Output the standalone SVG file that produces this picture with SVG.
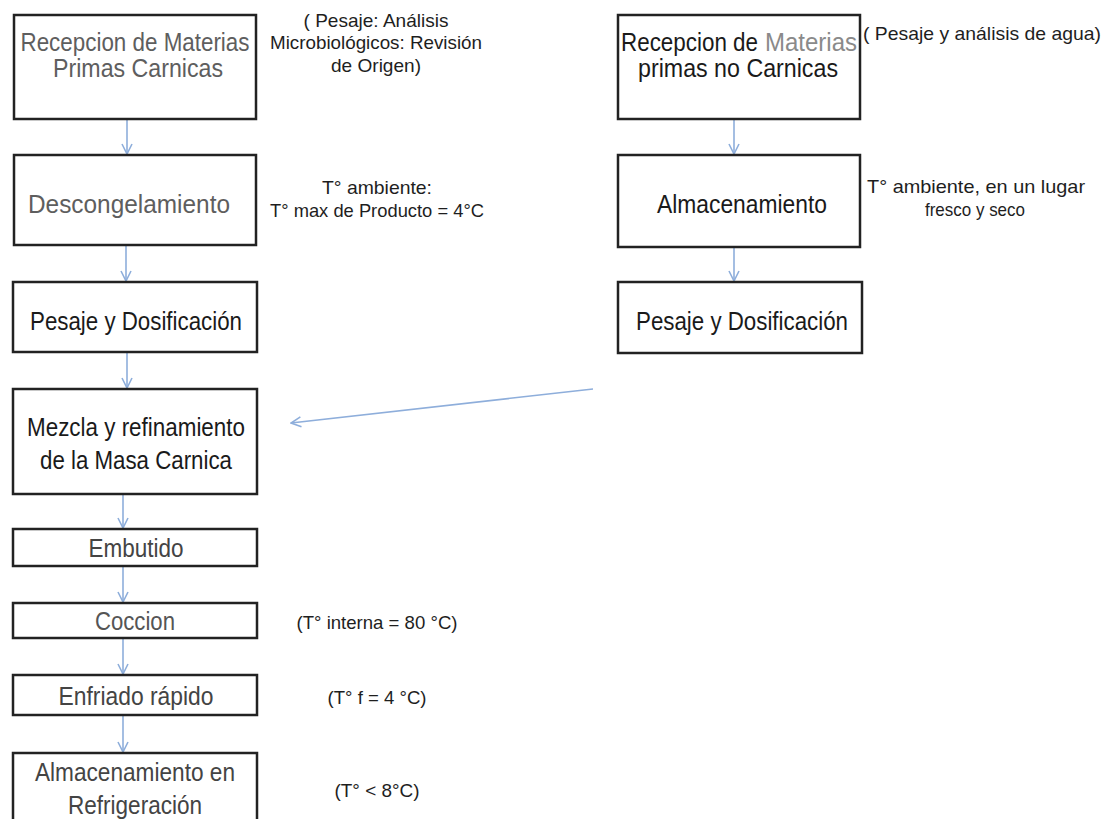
<svg xmlns="http://www.w3.org/2000/svg" width="1105" height="819" viewBox="0 0 1105 819">
<style>
.box{fill:#fff;stroke:#222;stroke-width:2.5}
.t{font-family:"Liberation Sans Narrow","Liberation Sans",Arial,sans-serif;text-anchor:middle;font-size:25px;fill:#1a1a1a}
.s{text-anchor:start}
.g{fill:#5e5e5e}
.g2{fill:#444}
.g3{fill:#555}
.g4{fill:#8a8a8a}
.a{font-family:"Liberation Sans Narrow","Liberation Sans",Arial,sans-serif;text-anchor:middle;font-size:18.5px;fill:#1e1e1e}
.c{stroke:#8eaedb;stroke-width:1.6;fill:none}
</style>
<defs>
<marker id="ah" viewBox="0 0 12 12" refX="11" refY="6" markerWidth="12" markerHeight="12" markerUnits="userSpaceOnUse" orient="auto">
<path d="M1,1 L11,6 L1,11" fill="none" stroke="#8eaedb" stroke-width="1.6"/>
</marker>
</defs>
<rect width="1105" height="819" fill="#fff"/>
<g id="connectors">
<line class="c" x1="127" y1="120" x2="127" y2="154" marker-end="url(#ah)"/>
<line class="c" x1="126" y1="246" x2="126" y2="281" marker-end="url(#ah)"/>
<line class="c" x1="127" y1="353" x2="127" y2="388" marker-end="url(#ah)"/>
<line class="c" x1="123" y1="495" x2="123" y2="528" marker-end="url(#ah)"/>
<line class="c" x1="123" y1="567" x2="123" y2="602" marker-end="url(#ah)"/>
<line class="c" x1="123" y1="639" x2="123" y2="674" marker-end="url(#ah)"/>
<line class="c" x1="123" y1="716" x2="123" y2="752" marker-end="url(#ah)"/>
<line class="c" x1="734" y1="120" x2="734" y2="154" marker-end="url(#ah)"/>
<line class="c" x1="734" y1="248" x2="734" y2="281" marker-end="url(#ah)"/>
<line class="c" x1="593" y1="389" x2="291" y2="423" marker-end="url(#ah)"/>
</g>
<g id="n1">
<rect class="box" x="14" y="15" width="242" height="104"/>
<text class="t g" x="135" y="51" textLength="229" lengthAdjust="spacingAndGlyphs">Recepcion de Materias</text>
<text class="t g" x="138" y="77" textLength="170" lengthAdjust="spacingAndGlyphs">Primas Carnicas</text>
</g>
<g id="a1">
<text class="a" x="376" y="27" textLength="145" lengthAdjust="spacingAndGlyphs">( Pesaje: Análisis</text>
<text class="a" x="376" y="49" textLength="212" lengthAdjust="spacingAndGlyphs">Microbiológicos: Revisión</text>
<text class="a" x="376" y="72" textLength="90" lengthAdjust="spacingAndGlyphs">de Origen)</text>
</g>
<g id="n2">
<rect class="box" x="14" y="155" width="242" height="90"/>
<text class="t g" x="129" y="213" textLength="202" lengthAdjust="spacingAndGlyphs">Descongelamiento</text>
</g>
<g id="a2">
<text class="a" x="377" y="194" textLength="110" lengthAdjust="spacingAndGlyphs">T° ambiente:</text>
<text class="a" x="377" y="217" textLength="214" lengthAdjust="spacingAndGlyphs">T° max de Producto = 4°C</text>
</g>
<g id="n3">
<rect class="box" x="13" y="282" width="244" height="70"/>
<text class="t" x="136" y="330" textLength="212" lengthAdjust="spacingAndGlyphs">Pesaje y Dosificación</text>
</g>
<g id="n4">
<rect class="box" x="13" y="389" width="244" height="105"/>
<text class="t" x="136" y="436" textLength="218" lengthAdjust="spacingAndGlyphs">Mezcla y refinamiento</text>
<text class="t" x="136" y="469" textLength="192" lengthAdjust="spacingAndGlyphs">de la Masa Carnica</text>
</g>
<g id="n5">
<rect class="box" x="13" y="529" width="244" height="37"/>
<text class="t g2" x="136" y="557" textLength="95" lengthAdjust="spacingAndGlyphs">Embutido</text>
</g>
<g id="n6">
<rect class="box" x="13" y="603" width="244" height="35"/>
<text class="t g3" x="135" y="630" textLength="80" lengthAdjust="spacingAndGlyphs">Coccion</text>
</g>
<g id="a6">
<text class="a" x="377" y="629" textLength="161" lengthAdjust="spacingAndGlyphs">(T° interna = 80 °C)</text>
</g>
<g id="n7">
<rect class="box" x="13" y="675" width="244" height="40"/>
<text class="t g2" x="136" y="705" textLength="155" lengthAdjust="spacingAndGlyphs">Enfriado rápido</text>
</g>
<g id="a7">
<text class="a" x="377" y="704" textLength="99" lengthAdjust="spacingAndGlyphs">(T° f = 4 °C)</text>
</g>
<g id="n8">
<rect class="box" x="13" y="753" width="244" height="90"/>
<text class="t g2" x="135" y="781" textLength="200" lengthAdjust="spacingAndGlyphs">Almacenamiento en</text>
<text class="t g2" x="135" y="814" textLength="134" lengthAdjust="spacingAndGlyphs">Refrigeración</text>
</g>
<g id="a8">
<text class="a" x="377" y="797" textLength="85" lengthAdjust="spacingAndGlyphs">(T° &lt; 8°C)</text>
</g>
<g id="r1">
<rect class="box" x="618" y="15" width="242" height="104"/>
<text class="t s" x="621" y="51" textLength="137" lengthAdjust="spacingAndGlyphs">Recepcion de</text>
<text class="t s g4" x="765" y="51" textLength="92" lengthAdjust="spacingAndGlyphs">Materias</text>
<text class="t" x="738" y="77" textLength="200" lengthAdjust="spacingAndGlyphs">primas no Carnicas</text>
</g>
<g id="ar1">
<text class="a" x="982" y="40" textLength="238" lengthAdjust="spacingAndGlyphs">( Pesaje y análisis de agua)</text>
</g>
<g id="r2">
<rect class="box" x="618" y="155" width="242" height="92"/>
<text class="t" x="742" y="213" textLength="170" lengthAdjust="spacingAndGlyphs">Almacenamiento</text>
</g>
<g id="ar2">
<text class="a" x="976" y="193" textLength="218" lengthAdjust="spacingAndGlyphs">T° ambiente, en un lugar</text>
<text class="a" x="975" y="216" textLength="100" lengthAdjust="spacingAndGlyphs">fresco y seco</text>
</g>
<g id="r3">
<rect class="box" x="618" y="282" width="244" height="71"/>
<text class="t" x="742" y="330" textLength="212" lengthAdjust="spacingAndGlyphs">Pesaje y Dosificación</text>
</g>
</svg>
